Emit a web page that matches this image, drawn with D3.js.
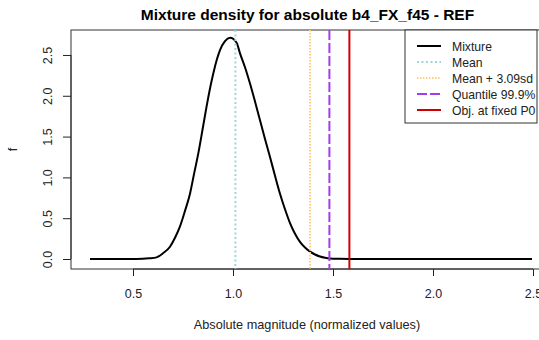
<!DOCTYPE html>
<html>
<head>
<meta charset="utf-8">
<script src="https://cdn.jsdelivr.net/npm/d3@7"></script>
<style>
  body { margin: 0; background: #fff; }
  text { font-family: "Liberation Sans", Arial, sans-serif; fill: #222; }
</style>
</head>
<body>
<div id="chart"></div>
<script>
// mixture density
const densX = [0.285, 0.40, 0.518, 0.58, 0.618, 0.65, 0.685, 0.71, 0.735, 0.76, 0.785, 0.805, 0.827, 0.848, 0.868, 0.885, 0.902, 0.92, 0.935, 0.96, 0.985, 1.018, 1.035, 1.06, 1.085, 1.11, 1.135, 1.16, 1.185, 1.21, 1.235, 1.26, 1.285, 1.31, 1.335, 1.36, 1.385, 1.41, 1.435, 1.46, 1.485, 1.53, 1.585, 1.8, 2.1, 2.495];
const densY = [0.0, 0.0, 0.0, 0.008, 0.02, 0.07, 0.15, 0.26, 0.40, 0.59, 0.80, 1.04, 1.30, 1.59, 1.87, 2.09, 2.28, 2.45, 2.56, 2.67, 2.71, 2.65, 2.52, 2.35, 2.15, 1.93, 1.70, 1.47, 1.25, 1.02, 0.80, 0.61, 0.44, 0.31, 0.21, 0.14, 0.09, 0.055, 0.03, 0.015, 0.006, 0.002, 0.0, 0.0, 0.0, 0.0];

const refNames = ["Mean", "Mean + 3.09sd", "Quantile 99.9%", "Obj. at fixed P0"];
const refValues = [1.012, 1.385, 1.482, 1.582];
const refColors = ["#9fd3e3", "#ffcf80", "#a23cf0", "#d00000"];
const refDash = ["2,2.5", "1.5,1.5", "10,3", null];

const xTicks = [0.5, 1.0, 1.5, 2.0, 2.5];
const yTicks = [0.0, 0.5, 1.0, 1.5, 2.0, 2.5];

const W = 539, H = 340;
const box = { left: 71, top: 30, right: 547, bottom: 269 };

const svg = d3.select("#chart").append("svg").attr("width", W).attr("height", H);

const x = d3.scaleLinear().domain([0.19, 2.57]).range([box.left, box.right]);
const y = d3.scaleLinear().domain([-0.1225, 2.806]).range([box.bottom, box.top]);

svg.append("text").attr("x", 307.5).attr("y", 20).attr("text-anchor", "middle")
  .style("font-size", "15.5px").style("font-weight", "bold").style("fill", "#000")
  .text("Mixture density for absolute b4_FX_f45 - REF");

// axes
const xAxis = svg.append("g").attr("transform", `translate(0,${box.bottom})`)
  .call(d3.axisBottom(x).tickValues(xTicks).tickSize(7).tickPadding(12).tickFormat(d3.format(".1f")));
xAxis.select(".domain").remove();
xAxis.append("line").attr("x1", x(0.5)).attr("x2", x(2.5)).attr("stroke", "#222");
xAxis.selectAll("line").attr("stroke", "#222");
xAxis.selectAll("text").style("font-size", "12.5px").style("fill", "#222").attr("dy", "0.8em");

const yAxis = svg.append("g").attr("transform", `translate(${box.left},0)`)
  .call(d3.axisLeft(y).tickValues(yTicks).tickSize(8).tickFormat(d3.format(".1f")));
yAxis.select(".domain").remove();
yAxis.append("line").attr("y1", y(0)).attr("y2", y(2.5)).attr("stroke", "#222");
yAxis.selectAll("line").attr("stroke", "#222");
yAxis.selectAll(".tick text")
  .attr("x", null).attr("dy", null)
  .attr("text-anchor", "middle")
  .attr("transform", "translate(-19,0) rotate(-90)")
  .style("font-size", "12.5px").style("fill", "#222");

svg.append("text").attr("x", 307).attr("y", 329).attr("text-anchor", "middle")
  .style("font-size", "12.7px").text("Absolute magnitude (normalized values)");
svg.append("text").attr("transform", `translate(17,${(box.top + box.bottom) / 2}) rotate(-90)`)
  .attr("text-anchor", "middle").style("font-size", "12.7px").text("f");

// plot frame
svg.append("rect").attr("x", box.left).attr("y", box.top)
  .attr("width", box.right - box.left).attr("height", box.bottom - box.top)
  .attr("fill", "none").attr("stroke", "#333");

const clip = svg.append("clipPath").attr("id", "clip").append("rect")
  .attr("x", box.left).attr("y", box.top).attr("width", box.right - box.left).attr("height", box.bottom - box.top);
const plot = svg.append("g").attr("clip-path", "url(#clip)");

const pts = densX.map((d, i) => [d, densY[i]]);
plot.append("path").datum(pts)
  .attr("fill", "none").attr("stroke", "#000").attr("stroke-width", 2)
  .attr("d", d3.line().x(d => x(d[0])).y(d => y(d[1])).curve(d3.curveMonotoneX));

refValues.forEach((v, i) => {
  plot.append("line").attr("x1", x(v)).attr("x2", x(v)).attr("y1", box.top).attr("y2", box.bottom)
    .attr("stroke", refColors[i]).attr("stroke-width", 2)
    .attr("stroke-dasharray", refDash[i]);
});

// legend
const leg = svg.append("g");
leg.append("rect").attr("x", 405).attr("y", 30).attr("width", 132).attr("height", 93)
  .attr("fill", "#fff").attr("stroke", "#333");
const legNames = ["Mixture"].concat(refNames);
const legColors = ["#000"].concat(refColors);
const legDash = [null].concat(refDash);
legNames.forEach((n, i) => {
  const yy = 46 + i * 16;
  leg.append("line").attr("x1", 417).attr("x2", 441).attr("y1", yy).attr("y2", yy)
    .attr("stroke", legColors[i]).attr("stroke-width", 2).attr("stroke-dasharray", legDash[i]);
  leg.append("text").attr("x", 452).attr("y", yy + 4.5).style("font-size", "12.2px").text(n);
});
</script>
</body>
</html>
